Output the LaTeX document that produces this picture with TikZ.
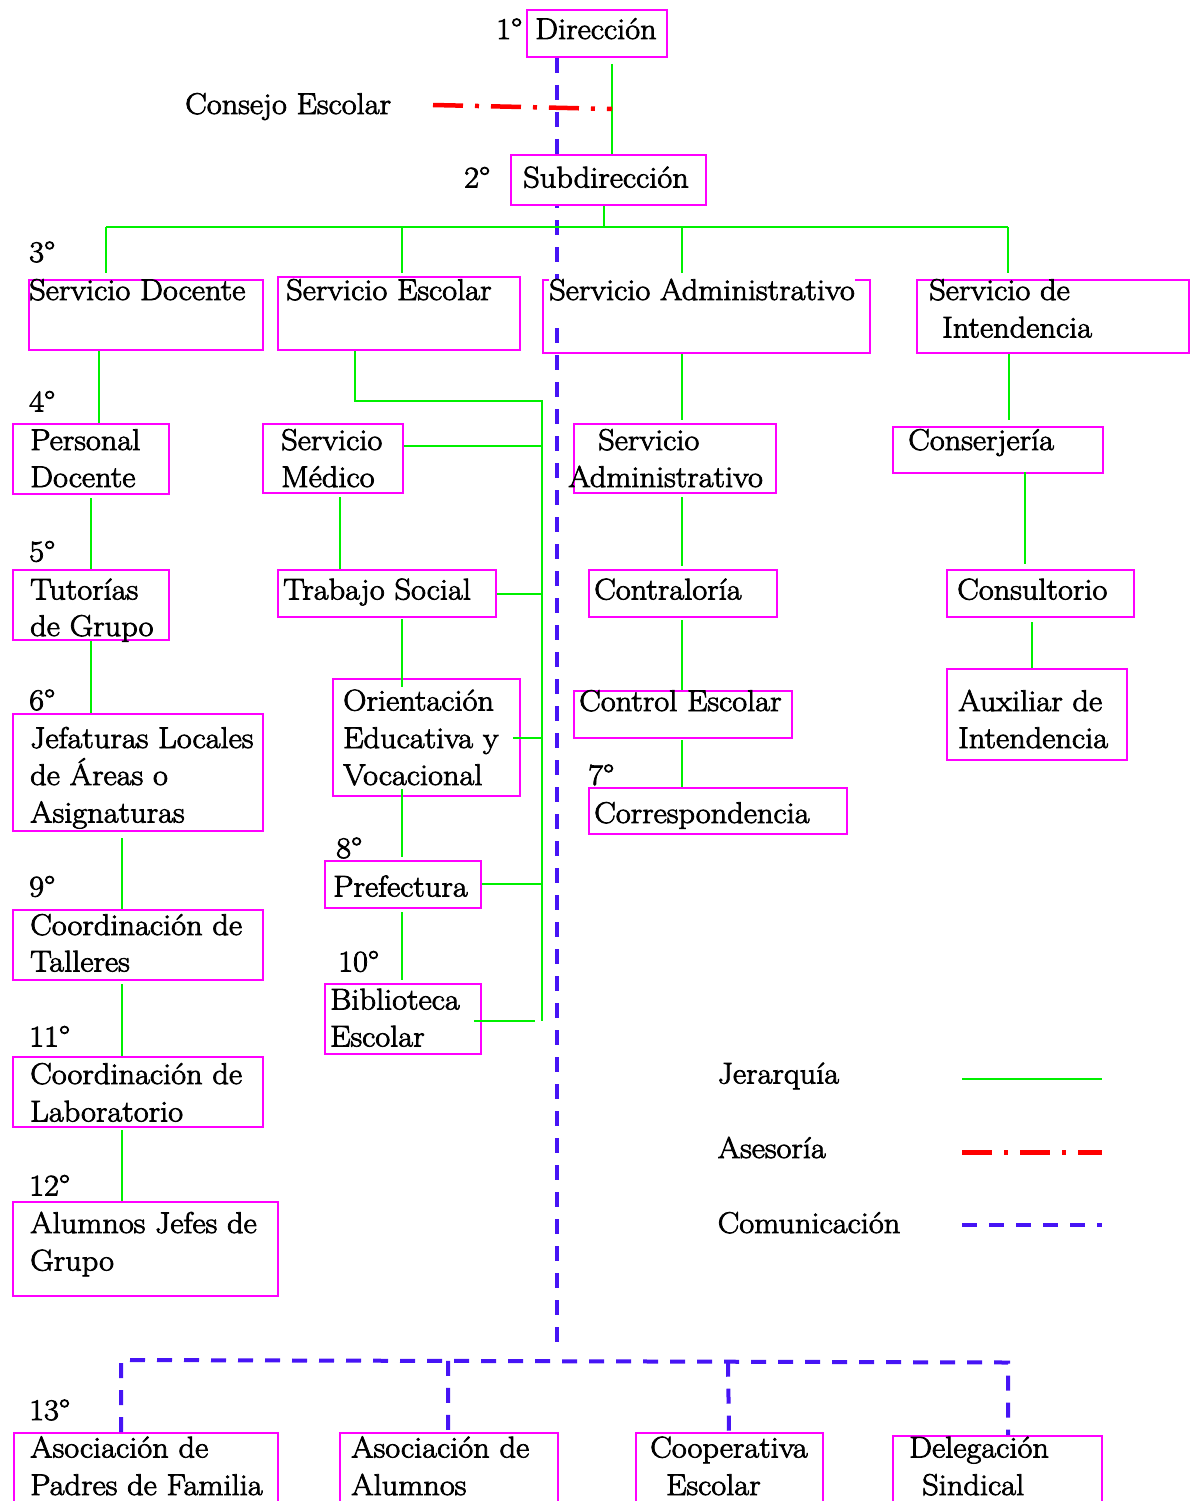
\documentclass[tikz,border=0pt]{standalone}
\usepackage{fontspec}
\setmainfont{Latin Modern Roman}[FakeStretch=1.08, FakeBold=2.5]
\usetikzlibrary{calc}
\definecolor{magbox}{RGB}{255,0,255}
\definecolor{hgreen}{RGB}{0,240,0}
\definecolor{ared}{RGB}{255,0,0}
\definecolor{cblue}{RGB}{70,20,245}
\tikzset{
  box/.style={draw=magbox, line width=2pt, inner sep=0pt, anchor=north west},
  txt/.style={anchor=base west, inner sep=0pt, font=\fontsize{30}{36}\selectfont},
  hier/.style={draw=hgreen, line width=2pt},
  ases/.style={draw=ared, line width=4.5pt, dash pattern=on 30pt off 12pt on 4pt off 12pt},
  comm/.style={draw=cblue, line width=4pt, dash pattern=on 15pt off 12pt},
}
\begin{document}
\begin{tikzpicture}[x=1pt,y=-1pt]
\useasboundingbox (0,0) rectangle (1191,1501);

% ---------- boxes (positions only) ----------
\node[box,minimum width=140pt,minimum height=47pt] (dir) at (526,9) {};
\node[box,minimum width=195pt,minimum height=50pt] (sub) at (510,154) {};
\node[box,minimum width=234pt,minimum height=70pt] (sdoc) at (28,279) {};
\node[box,minimum width=242pt,minimum height=73pt] (sesc) at (277,276) {};
\node[box,minimum width=327pt,minimum height=73pt] (sadm) at (542,279) {};
\node[box,minimum width=272pt,minimum height=73pt] (sint) at (916,279) {};
\node[box,minimum width=156pt,minimum height=70pt] (pdoc) at (12,423) {};
\node[box,minimum width=140pt,minimum height=69pt] (smed) at (262,423) {};
\node[box,minimum width=202pt,minimum height=69pt] (sadmb) at (573,423) {};
\node[box,minimum width=210pt,minimum height=46pt] (cons) at (892,426) {};
\node[box,minimum width=156pt,minimum height=70pt] (tut) at (12,569) {};
\node[box,minimum width=218pt,minimum height=47pt] (tsoc) at (277,569) {};
\node[box,minimum width=188pt,minimum height=47pt] (contr) at (588,569) {};
\node[box,minimum width=187pt,minimum height=47pt] (consul) at (946,569) {};
\node[box,minimum width=250pt,minimum height=117pt] (jef) at (12,713) {};
\node[box,minimum width=187pt,minimum height=117pt] (orient) at (332,678) {};
\node[box,minimum width=218pt,minimum height=47pt] (cesc) at (573,690) {};
\node[box,minimum width=180pt,minimum height=91pt] (aux) at (946,668) {};
\node[box,minimum width=258pt,minimum height=46pt] (corr) at (588,787) {};
\node[box,minimum width=156pt,minimum height=47pt] (pref) at (324,860) {};
\node[box,minimum width=250pt,minimum height=70pt] (ctal) at (12,909) {};
\node[box,minimum width=156pt,minimum height=70pt] (bib) at (324,983) {};
\node[box,minimum width=250pt,minimum height=70pt] (clab) at (12,1056) {};
\node[box,minimum width=265pt,minimum height=94pt] (ajg) at (12,1201) {};
\node[box,minimum width=264pt,minimum height=90pt] (apf) at (13,1432) {};
\node[box,minimum width=218pt,minimum height=90pt] (aal) at (339,1432) {};
\node[box,minimum width=187pt,minimum height=90pt] (coop) at (635,1432) {};
\node[box,minimum width=209pt,minimum height=90pt] (dsin) at (892,1435) {};

% ---------- communication (blue dashed) ----------
\coordinate (cbL) at (121,1360);
\coordinate (cbR) at (1008,1362.5);
\draw[comm] (dir.south -| 557,0) -- (557,1347);
\draw[comm] (apf.north -| cbL) -- (cbL) -- (cbR) -- (dsin.north -| cbR);
\draw[comm] ($(cbL)!0.3687!(cbR)$) -- (aal.north -| 448,0);
\draw[comm] ($(cbL)!0.6843!(cbR)$) -- (coop.north -| 729,0);

% white-backed first line of Servicio Administrativo (hides the dashed line)
\node[txt, fill=white, text depth=25pt] (sadm-t) at (549,300) {Servicio Administrativo};
% Subdireccion box is opaque
\node[box, fill=white, minimum width=195pt,minimum height=50pt] (subf) at (510,154) {};

% ---------- hierarchy (green) ----------
\coordinate (dj) at (612,109);
\draw[hier] ([yshift=-6pt]dir.south -| dj) -- (dj) -- (sub.north -| dj);
\coordinate (hL) at (106,227);
\coordinate (hR) at (1008,227);
\draw[hier] (sub.south -| 604,0) -- (604,227);
\draw[hier] (hL) -- (hR);
\draw[hier, shorten >=6pt] (hL) -- (sdoc.north -| hL);
\draw[hier, shorten >=3pt] (402,227) -- (sesc.north -| 402,0);
\draw[hier, shorten >=6pt] (682,227) -- (sadm.north -| 682,0);
\draw[hier, shorten >=6pt] (hR) -- (sint.north -| hR);

% left column
\draw[hier] (sdoc.south -| 98.5,0) -- (pdoc.north -| 98.5,0);
\draw[hier, shorten <=3pt] (pdoc.south -| 91,0) -- (tut.north -| 91,0);
\draw[hier] (tut.south -| 91,0) -- (jef.north -| 91,0);
\draw[hier, shorten <=6pt] (jef.south -| 122,0) -- (ctal.north -| 122,0);
\draw[hier, shorten <=3pt] (ctal.south -| 122,0) -- (clab.north -| 122,0);
\draw[hier, shorten <=2pt] (clab.south -| 122,0) -- (ajg.north -| 122,0);

% Servicio Escolar bus
\coordinate (busT) at (542,401);
\coordinate (busB) at (542,1021);
\coordinate (bibE) at (535,1020.5);
\draw[hier] (sesc.south -| 355,0) |- (busT) -- (busB);
\draw[hier] (smed.east |- 0,446) -- (busT |- 0,446);
\draw[hier] (tsoc.east) -- (tsoc.east -| busT);
\draw[hier] ([xshift=-8pt]orient.east |- 0,738) -- (busT |- 0,738);
\draw[hier] (pref.east |- 0,884) -- (busT |- 0,884);
\draw[hier] ([xshift=-8pt]bib.east |- bibE) -- (bibE);
\draw[hier, shorten <=3pt] (smed.south -| 340,0) -- (tsoc.north -| 340,0);
\draw[hier, shorten <=1pt, shorten >=-9pt] (tsoc.south -| 402,0) -- (orient.north -| 402,0);
\draw[hier, shorten <=-8pt, shorten >=3pt] (orient.south -| 402,0) -- (pref.north -| 402,0);
\draw[hier, shorten <=3pt, shorten >=3pt] (pref.south -| 402,0) -- (bib.north -| 402,0);

% administrative column
\draw[hier, shorten >=3pt] (sadm.south -| 682,0) -- (sadmb.north -| 682,0);
\draw[hier, shorten <=3pt, shorten >=3pt] (sadmb.south -| 682,0) -- (contr.north -| 682,0);
\draw[hier, shorten <=2pt] (contr.south -| 682,0) -- (cesc.north -| 682,0);
\draw[hier, shorten <=1pt] (cesc.south -| 682,0) -- (corr.north -| 682,0);

% intendencia column
\draw[hier, shorten >=6pt] (sint.south -| 1008.5,0) -- (cons.north -| 1008.5,0);
\draw[hier, shorten <=-2pt, shorten >=5pt] (cons.south -| 1025,0) -- (consul.north -| 1025,0);
\draw[hier, shorten <=4pt] (consul.south -| 1032,0) -- (aux.north -| 1032,0);

% ---------- texts ----------
\node[txt] (n1) at (496,39) {1°};
\node[txt] (dir-t) at (535,39) {Dirección};
\node[txt] (cesc-lbl) at (185,114) {Consejo Escolar};
\node[txt] (n2) at (464,187.5) {2°};
\node[txt] (sub-t) at (523,187.5) {Subdirección};
\node[txt] (n3) at (29,262) {3°};
\node[txt] (sdoc-t) at (29,300) {Servicio Docente};
\node[txt] (sesc-t) at (286,300) {Servicio Escolar};
\node[txt] (sint-t1) at (929,300) {Servicio de};
\node[txt] (sint-t2) at (942,337.5) {Intendencia};
\node[txt] (n4) at (29,411.5) {4°};
\node[txt] (pdoc-t1) at (30,450) {Personal};
\node[txt] (pdoc-t2) at (30,487) {Docente};
\node[txt] (smed-t1) at (281,450) {Servicio};
\node[txt] (smed-t2) at (281,487) {Médico};
\node[txt] (sadmb-t1) at (598,450) {Servicio};
\node[txt] (sadmb-t2) at (568,487) {Administrativo};
\node[txt] (cons-t) at (908,450) {Conserjería};
\node[txt] (n5) at (29,561.5) {5°};
\node[txt] (tut-t1) at (30,599.5) {Tutorías};
\node[txt] (tut-t2) at (30,636) {de Grupo};
\node[txt] (tsoc-t) at (283,599.5) {Trabajo Social};
\node[txt] (contr-t) at (594,599.5) {Contraloría};
\node[txt] (consul-t) at (957,599.5) {Consultorio};
\node[txt] (n6) at (29,710) {6°};
\node[txt] (jef-t1) at (30,748) {Jefaturas Locales};
\node[txt] (jef-t2) at (30,785) {de Áreas o};
\node[txt] (jef-t3) at (30,822.5) {Asignaturas};
\node[txt] (orient-t1) at (343,710.5) {Orientación};
\node[txt] (orient-t2) at (343,748) {Educativa y};
\node[txt] (orient-t3) at (343,785) {Vocacional};
\node[txt] (cesc-t) at (579,711) {Control Escolar};
\node[txt] (aux-t1) at (958,711) {Auxiliar de};
\node[txt] (aux-t2) at (958,748) {Intendencia};
\node[txt] (n7) at (588,785) {7°};
\node[txt] (corr-t) at (594,823) {Correspondencia};
\node[txt] (n8) at (336,858) {8°};
\node[txt] (pref-t) at (333,896.5) {Prefectura};
\node[txt] (n9) at (29,896.5) {9°};
\node[txt] (ctal-t1) at (30,935) {Coordinación de};
\node[txt] (ctal-t2) at (30,971.5) {Talleres};
\node[txt] (n10) at (338,971.5) {10°};
\node[txt] (bib-t1) at (330,1009.5) {Biblioteca};
\node[txt] (bib-t2) at (330,1046.5) {Escolar};
\node[txt] (n11) at (29,1046.5) {11°};
\node[txt] (clab-t1) at (30,1084) {Coordinación de};
\node[txt] (clab-t2) at (30,1121.5) {Laboratorio};
\node[txt] (n12) at (29,1195.5) {12°};
\node[txt] (ajg-t1) at (30,1233) {Alumnos Jefes de};
\node[txt] (ajg-t2) at (30,1270.5) {Grupo};
\node[txt] (n13) at (29,1420) {13°};
\node[txt] (apf-t1) at (30,1457.5) {Asociación de};
\node[txt] (apf-t2) at (30,1495) {Padres de Familia};
\node[txt] (aal-t1) at (351,1457.5) {Asociación de};
\node[txt] (aal-t2) at (351,1495) {Alumnos};
\node[txt] (coop-t1) at (650,1457.5) {Cooperativa};
\node[txt] (coop-t2) at (666,1495) {Escolar};
\node[txt] (dsin-t1) at (909,1457.5) {Delegación};
\node[txt] (dsin-t2) at (922,1495) {Sindical};

% ---------- advisory (red dash-dot) ----------
\coordinate (asA) at (433,105);
\draw[ases] (asA) -- (dj);

% ---------- legend ----------
\node[txt] (lg1) at (717.5,1083.5) {Jerarquía};
\node[txt] (lg2) at (717.5,1158) {Asesoría};
\node[txt] (lg3) at (717.5,1233) {Comunicación};
\coordinate (lg1a) at (962,1079); \coordinate (lg1b) at (1102,1079);
\coordinate (lg2a) at (962,1152.5); \coordinate (lg2b) at (1102,1152.5);
\coordinate (lg3a) at (962,1225); \coordinate (lg3b) at (1102,1225);
\draw[hier] (lg1a) -- (lg1b);
\draw[ases] (lg2a) -- (lg2b);
\draw[comm] (lg3a) -- (lg3b);
\end{tikzpicture}
\end{document}
